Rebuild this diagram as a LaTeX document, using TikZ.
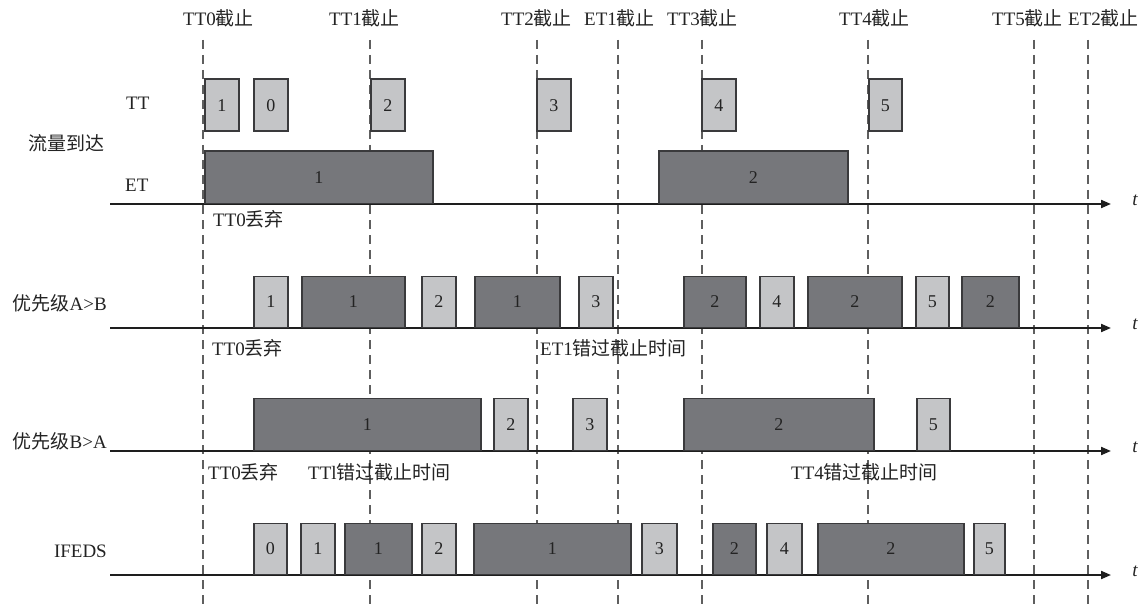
\documentclass[tikz,border=0pt]{standalone}
\usepackage{fontspec}
\setmainfont{Liberation Serif}
\newfontfamily\cjkfont{Noto Sans CJK SC}
\newcommand{\zh}[1]{{\cjkfont #1}}
\usetikzlibrary{arrows.meta}
\definecolor{lightfill}{RGB}{196,197,199}
\definecolor{darkfill}{RGB}{118,119,123}
\definecolor{boxline}{RGB}{58,58,60}
\definecolor{dashcol}{RGB}{95,95,95}
\definecolor{axiscol}{RGB}{30,30,30}
\definecolor{textcol}{RGB}{35,35,35}
\newcommand{\bx}[7]{\node[#1, minimum width={(#4-#3)*1pt}, minimum height=#6pt, anchor=south west] (#2) at (#3,#5) {#7};}
\begin{document}
\begin{tikzpicture}[x=1pt,y=-1pt,
  lbox/.style={draw=boxline, line width=1.5pt, fill=lightfill, inner sep=0pt, text=textcol, font=\fontsize{18}{20}\selectfont},
  dbox/.style={draw=boxline, line width=1.5pt, fill=darkfill, inner sep=0pt, text=textcol, font=\fontsize{18}{20}\selectfont},
  dline/.style={draw=dashcol, line width=1.2pt, dash pattern=on 9pt off 6pt},
  axisline/.style={draw=axiscol, line width=2pt, -{Triangle[length=10pt,width=8pt]}},
  lab/.style={inner sep=0pt, text=textcol, font=\fontsize{19}{22}\selectfont},
  tlab/.style={inner sep=0pt, text=textcol, font=\fontsize{19}{20}\selectfont\itshape}
]
\useasboundingbox (0,0) rectangle (1142,604);

% deadline dashed lines
\coordinate (d0t) at (203,40);  \coordinate (d0b) at (203,604);
\coordinate (d1t) at (370,40);  \coordinate (d1b) at (370,604);
\coordinate (d2t) at (537,40);  \coordinate (d2b) at (537,604);
\coordinate (d3t) at (618,40);  \coordinate (d3b) at (618,604);
\coordinate (d4t) at (702,40);  \coordinate (d4b) at (702,604);
\coordinate (d5t) at (868,40);  \coordinate (d5b) at (868,604);
\coordinate (d6t) at (1034,40); \coordinate (d6b) at (1034,604);
\coordinate (d7t) at (1088,40); \coordinate (d7b) at (1088,604);
\foreach \i in {0,...,7} {\draw[dline] (d\i t) -- (d\i b);}

% axes
\coordinate (a1s) at (110,204); \coordinate (a1e) at (1111,204);
\coordinate (a2s) at (110,328); \coordinate (a2e) at (1111,328);
\coordinate (a3s) at (110,451); \coordinate (a3e) at (1111,451);
\coordinate (a4s) at (110,575); \coordinate (a4e) at (1111,575);
\foreach \i in {1,...,4} {\draw[axisline] (a\i s) -- (a\i e);}

% row 1: traffic arrival
\bx{lbox}{r1a}{204}{238}{132}{52}{1}
\bx{lbox}{r1b}{253}{287}{132}{52}{0}
\bx{lbox}{r1c}{370}{404}{132}{52}{2}
\bx{lbox}{r1d}{536}{570}{132}{52}{3}
\bx{lbox}{r1e}{701}{735}{132}{52}{4}
\bx{lbox}{r1f}{868}{901}{132}{52}{5}
\bx{dbox}{r1g}{204}{432}{204}{52}{1}
\bx{dbox}{r1h}{658}{847}{204}{52}{2}

% row 2: priority A>B
\bx{lbox}{r2a}{253}{287}{328}{51}{1}
\bx{dbox}{r2b}{301}{404}{328}{51}{1}
\bx{lbox}{r2c}{421}{455}{328}{51}{2}
\bx{dbox}{r2d}{474}{559}{328}{51}{1}
\bx{lbox}{r2e}{578}{612}{328}{51}{3}
\bx{dbox}{r2f}{683}{745}{328}{51}{2}
\bx{lbox}{r2g}{759}{793}{328}{51}{4}
\bx{dbox}{r2h}{807}{901}{328}{51}{2}
\bx{lbox}{r2i}{915}{948}{328}{51}{5}
\bx{dbox}{r2j}{961}{1018}{328}{51}{2}

% row 3: priority B>A
\bx{dbox}{r3a}{253}{480}{451}{52}{1}
\bx{lbox}{r3b}{493}{527}{451}{52}{2}
\bx{lbox}{r3c}{572}{606}{451}{52}{3}
\bx{dbox}{r3d}{683}{873}{451}{52}{2}
\bx{lbox}{r3e}{916}{949}{451}{52}{5}

% row 4: IFEDS
\bx{lbox}{r4a}{253}{286}{575}{51}{0}
\bx{lbox}{r4b}{300}{334}{575}{51}{1}
\bx{dbox}{r4c}{344}{411}{575}{51}{1}
\bx{lbox}{r4d}{421}{455}{575}{51}{2}
\bx{dbox}{r4e}{473}{630}{575}{51}{1}
\bx{lbox}{r4f}{641}{676}{575}{51}{3}
\bx{dbox}{r4g}{712}{755}{575}{51}{2}
\bx{lbox}{r4h}{766}{801}{575}{51}{4}
\bx{dbox}{r4i}{817}{963}{575}{51}{2}
\bx{lbox}{r4j}{973}{1004}{575}{51}{5}

% deadline labels
\node[lab, anchor=west] (l0) at (183,18) {TT0\zh{截止}};
\node[lab, anchor=west] (l1) at (329,18) {TT1\zh{截止}};
\node[lab, anchor=west] (l2) at (501,18) {TT2\zh{截止}};
\node[lab, anchor=west] (l3) at (584,18) {ET1\zh{截止}};
\node[lab, anchor=west] (l4) at (667,18) {TT3\zh{截止}};
\node[lab, anchor=west] (l5) at (839,18) {TT4\zh{截止}};
\node[lab, anchor=west] (l6) at (992,18) {TT5\zh{截止}};
\node[lab, anchor=west] (l7) at (1068,18) {ET2\zh{截止}};

% row labels
\node[lab, anchor=west] (ltt) at (126,103) {TT};
\node[lab, anchor=west] (lflow) at (28,143) {\zh{流量到达}};
\node[lab, anchor=west] (let) at (125,185) {ET};
\node[lab, anchor=east] (lab2) at (107,303) {\zh{优先级}A>B};
\node[lab, anchor=east] (lab3) at (107,441) {\zh{优先级}B>A};
\node[lab, anchor=east] (lab4) at (107,551) {IFEDS};

% t labels
\node[tlab] (t1) at (1135,200) {t};
\node[tlab] (t2) at (1135,324) {t};
\node[tlab] (t3) at (1135,447) {t};
\node[tlab] (t4) at (1135,571) {t};

% annotations
\node[lab, anchor=west] (n1) at (213,219) {TT0\zh{丢弃}};
\node[lab, anchor=west] (n2) at (212,348) {TT0\zh{丢弃}};
\node[lab, anchor=west] (n3) at (540,348) {ET1\zh{错过截止时间}};
\node[lab, anchor=west] (n4) at (208,472) {TT0\zh{丢弃}};
\node[lab, anchor=west] (n5) at (308,472) {TTl\zh{错过截止时间}};
\node[lab, anchor=west] (n6) at (791,472) {TT4\zh{错过截止时间}};
\end{tikzpicture}
\end{document}
